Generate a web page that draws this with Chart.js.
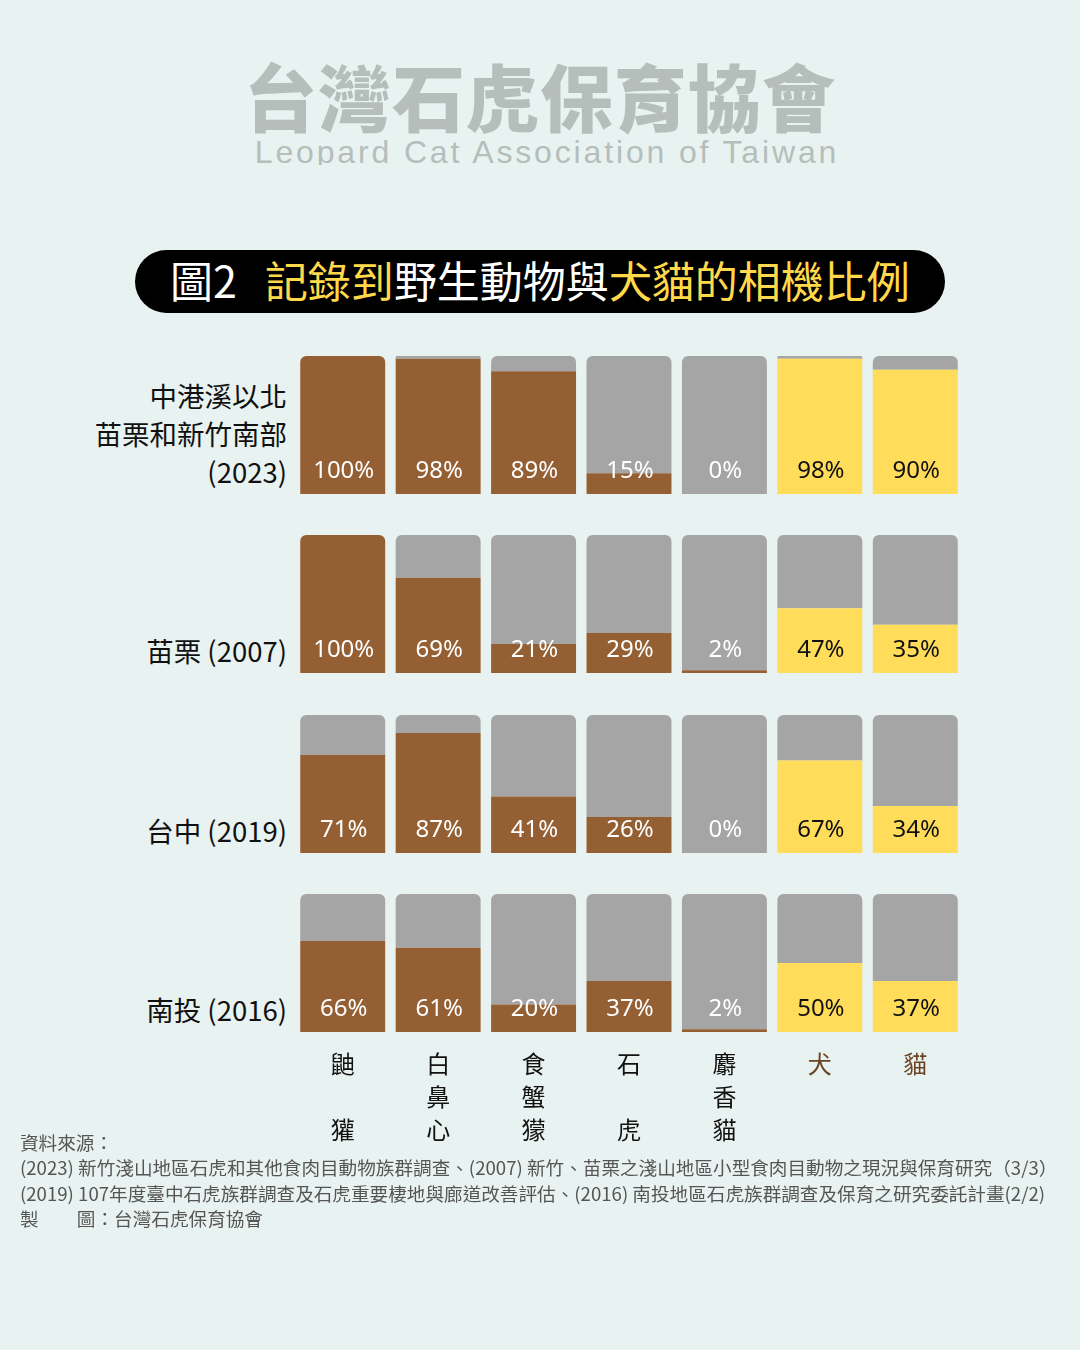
<!DOCTYPE html>
<html lang="zh-Hant">
<head>
<meta charset="utf-8">
<title>記錄到野生動物與犬貓的相機比例</title>
<script src="https://cdn.jsdelivr.net/npm/chart.js@4.4.1/dist/chart.umd.min.js"></script>
<style>
  html, body { margin: 0; padding: 0; }
  body {
    width: 1080px; height: 1350px; position: relative; overflow: hidden;
    background: #E8F2F0; color: #111;
    font-family: "Noto Sans CJK TC", "Noto Sans", sans-serif;
  }
  .logo-zh {
    position: absolute; left: 0; width: 1080px; top: 46px; text-align: center;
    font-size: 73px; line-height: 96px; font-weight: 900; color: #B5BEBB; letter-spacing: 1px;
  }
  .logo-en-wrap {
    position: absolute; left: 7px; width: 1080px; top: 134px; height: 31px; overflow: hidden; text-align: center;
  }
  .logo-en {
    font-family: "Liberation Sans", Arial, sans-serif; font-size: 32px; line-height: 36px;
    color: #B5BEBB; letter-spacing: 2.85px; white-space: nowrap;
  }
  .title {
    position: absolute; left: 135px; top: 250px; width: 810px; height: 63px;
    background: #000; border-radius: 32px; box-sizing: border-box; padding-left: 35px; padding-bottom: 5px;
    display: flex; align-items: center; font-size: 43px; font-weight: 400; white-space: nowrap;
  }
  .title .w { color: #fff; }
  .title .y { color: #FFD94A; }
  .title .num { margin-right: 28px; }
  .rowlabel {
    position: absolute; right: 793px; font-size: 27.5px; line-height: 38px; text-align: right; white-space: nowrap;
  }
  canvas { position: absolute; left: 295px; }
  .foot {
    position: absolute; left: 20px; top: 1130px; font-size: 18px; line-height: 25.3px; color: #555;
    transform-origin: 0 0; white-space: nowrap;
  }
  .foot div { white-space: nowrap; }
</style>
</head>
<body>

<div class="logo-zh">台灣石虎保育協會</div>
<div class="logo-en-wrap"><span class="logo-en">Leopard Cat Association of Taiwan</span></div>

<div class="title">
  <span class="w num">圖2</span><span class="y">記錄到</span><span class="w">野生動物與</span><span class="y">犬貓的相機比例</span>
</div>

<div id="labels"></div>

<canvas id="row0" width="668" height="138" style="top:356px"></canvas>
<canvas id="row1" width="668" height="138" style="top:535px"></canvas>
<canvas id="row2" width="668" height="138" style="top:715px"></canvas>
<canvas id="row3" width="668" height="254" style="top:894px"></canvas>

<div class="foot" id="foot">
  <div>資料來源：</div>
  <div><span id="footWide">(2023) 新竹淺山地區石虎和其他食肉目動物族群調查、(2007) 新竹、苗栗之淺山地區小型食肉目動物之現況與保育研究（3/3）</span></div>
  <div>(2019) 107年度臺中石虎族群調查及石虎重要棲地與廊道改善評估、(2016) 南投地區石虎族群調查及保育之研究委託計畫(2/2)</div>
  <div>製<span style="display:inline-block;width:37px"></span>圖：台灣石虎保育協會</div>
</div>

<script>
// species shown as vertical text under the columns
const species = [['鼬', '', '獾'], ['白', '鼻', '心'], ['食', '蟹', '獴'], ['石', '', '虎'], ['麝', '香', '貓'], ['犬'], ['貓']];
const isPet = [false, false, false, false, false, true, true];

const rowLabels = [
  ['中港溪以北', '苗栗和新竹南部', '(2023)'],
  ['苗栗 (2007)'],
  ['台中 (2019)'],
  ['南投 (2016)']
];

// percentage of sites where the animal was recorded
const pct2023 = [100, 98, 89, 15, 0, 98, 90];
const pct2007 = [100, 69, 21, 29, 2, 47, 35];
const pct2019 = [71, 87, 41, 26, 0, 67, 34];
const pct2016 = [66, 61, 20, 37, 2, 50, 37];
const rows = [pct2023, pct2007, pct2019, pct2016];

const BROWN = '#945F33';
const YELLOW = '#FFDD5A';
const GRAY = '#A5A5A5';
const PET_TEXT = '#6B4423';

const barTops = [356, 535, 715, 894];
const barH = 138;

function placeRowLabels() {
  const box = document.getElementById('labels');
  rowLabels.forEach((lines, i) => {
    const d = document.createElement('div');
    d.className = 'rowlabel';
    const bottomCenter = barTops[i] + barH - 23;
    d.style.top = (bottomCenter - 19 - (lines.length - 1) * 38) + 'px';
    d.innerHTML = lines.join('<br>');
    box.appendChild(d);
  });
}

const pctLabels = {
  id: 'pctLabels',
  afterDatasetsDraw(chart) {
    const { ctx, chartArea } = chart;
    const meta = chart.getDatasetMeta(0);
    const values = chart.data.datasets[0].data;
    ctx.save();
    ctx.font = '24px "Noto Sans", sans-serif';
    ctx.textAlign = 'center';
    ctx.textBaseline = 'middle';
    meta.data.forEach((bar, i) => {
      ctx.fillStyle = isPet[i] && values[i] > 10 ? '#111' : '#fff';
      ctx.fillText(values[i] + '%', bar.x + 1, chartArea.bottom - 23);
    });
    ctx.restore();
  }
};

function makeRow(canvas, values, showAxis) {
  const x = {
    stacked: true,
    display: showAxis,
    grid: { display: false, drawTicks: false },
    border: { display: false },
    ticks: {
      autoSkip: false,
      maxRotation: 0,
      padding: 15,
      font: { family: '"Noto Sans CJK TC", sans-serif', size: 24, lineHeight: 1.375 },
      color: c => isPet[c.index] ? PET_TEXT : '#111'
    }
  };
  if (showAxis) x.afterFit = s => { s.height = 116; };

  return new Chart(canvas, {
    type: 'bar',
    data: {
      labels: species,
      datasets: [
        {
          label: '有記錄',
          data: values,
          backgroundColor: isPet.map(p => p ? YELLOW : BROWN),
          borderRadius: 6
        },
        {
          label: '未記錄',
          data: values.map(v => 100 - v),
          backgroundColor: GRAY,
          borderRadius: 6
        }
      ]
    },
    options: {
      responsive: false,
      animation: false,
      events: [],
      layout: { padding: 0 },
      datasets: { bar: { barPercentage: 0.89, categoryPercentage: 1 } },
      plugins: { legend: { display: false }, tooltip: { enabled: false } },
      scales: {
        x,
        y: { stacked: true, display: false, min: 0, max: 100 }
      }
    },
    plugins: [pctLabels]
  });
}

function fitFooter() {
  const foot = document.getElementById('foot');
  const wide = document.getElementById('footWide');
  const k = 1037 / wide.offsetWidth;
  foot.style.transform = 'scaleX(' + k + ')';
}

document.addEventListener('DOMContentLoaded', () => {
  placeRowLabels();
  rows.forEach((vals, i) => makeRow(document.getElementById('row' + i), vals, i === rows.length - 1));
  fitFooter();
  if (document.fonts) document.fonts.ready.then(fitFooter);
});
</script>
</body>
</html>
